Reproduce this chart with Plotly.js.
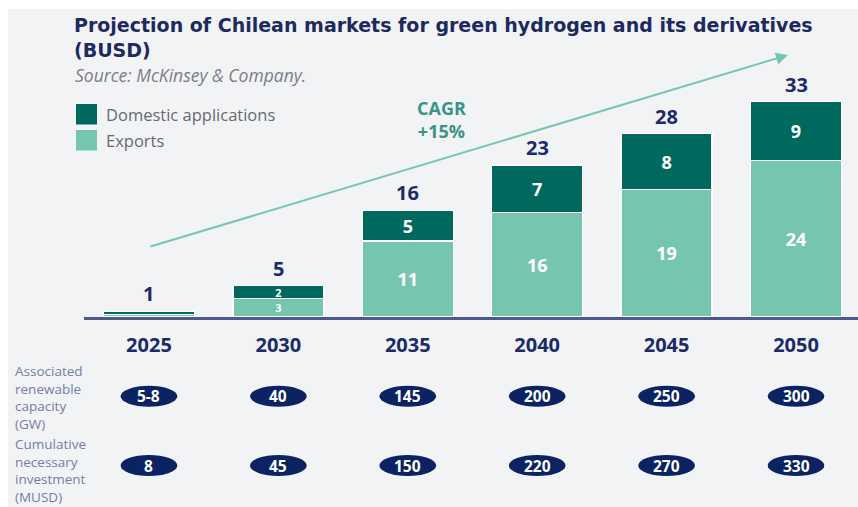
<!DOCTYPE html>
<html>
<head>
<meta charset="utf-8">
<script src="https://cdn.plot.ly/plotly-3.0.1.min.js"></script>
<style>
  html, body { margin:0; padding:0; background:#ffffff; width:858px; height:507px; overflow:hidden; }
  #bg { position:absolute; left:8px; top:9px; right:0; bottom:0; background:#f2f3f5; }
  #chart { position:absolute; left:0; top:0; width:858px; height:507px; }
</style>
</head>
<body>
<div id="bg"></div>
<div id="chart"></div>
<script>
// ---- data ----
const years = ['2025', '2030', '2035', '2040', '2045', '2050'];
const seriesNames = ['Domestic applications', 'Exports'];
const exportsVals = [0.35, 2.8, 11.6, 16, 19.5, 23.9];
const domesticVals = [0.5, 2.0, 4.7, 7.2, 8.5, 9.0];
const exportLabels = ['', '3', '11', '16', '19', '24'];
const domesticLabels = ['', '2', '5', '7', '8', '9'];
const totals = [1, 5, 16, 23, 28, 33];
const capacityGW = ['5-8', '40', '145', '200', '250', '300'];
const investmentMUSD = ['8', '45', '150', '220', '270', '330'];
const rowLabels = [
  'Associated<br>renewable<br>capacity<br>(GW)',
  'Cumulative<br>necessary<br>investment<br>(MUSD)'
];
const cagrText = 'CAGR<br>+15%';

// ---- style ----
const DARK = '#00695e';
const LIGHT = '#76c6af';
const NAVY = '#1b2b6a';
const OVAL = '#0b2363';

const W = 858, H = 507;
const M = {l: 84, r: 0, t: 60, b: 190};
const plotW = W - M.l - M.r, plotH = H - M.t - M.b;
const px2x = px => (px - M.l) / plotW;
const px2y = py => (H - M.b - py) / plotH;

// inside-label font size: small segments get a smaller font
const labelSize = vals => vals.map(v => (v < 4 ? 11 : 18));

const traces = [
  {
    type: 'bar', name: seriesNames[1], x: years, y: exportsVals,
    text: exportLabels, texttemplate: '%{text}', textposition: 'inside',
    insidetextanchor: 'middle', textangle: 0, constraintext: 'none',
    textfont: {family: 'Open Sans', size: labelSize(exportsVals), color: '#ffffff', weight: 700},
    marker: {color: LIGHT, line: {color: '#ffffff', width: 1.5}},
    hoverinfo: 'skip'
  },
  {
    type: 'bar', name: seriesNames[0], x: years, y: domesticVals,
    text: domesticLabels, texttemplate: '%{text}', textposition: 'inside',
    insidetextanchor: 'middle', textangle: 0, constraintext: 'none',
    textfont: {family: 'Open Sans', size: labelSize(domesticVals), color: '#ffffff', weight: 700},
    marker: {color: DARK, line: {color: '#ffffff', width: 1.5}},
    hoverinfo: 'skip'
  }
];

const annotations = [];
const shapes = [];

// totals above bars
years.forEach((yr, i) => {
  annotations.push({
    x: i, y: exportsVals[i] + domesticVals[i], xref: 'x', yref: 'y',
    text: String(totals[i]), showarrow: false, yanchor: 'bottom', yshift: 2,
    font: {family: 'Open Sans', size: 20, color: NAVY, weight: 700}
  });
});

// ovals rows
const rowsVals = [capacityGW, investmentMUSD];
const rowCenters = [396.3, 465.5];
const rowLabelCenter = [397, 470];
rowsVals.forEach((vals, r) => {
  const cy = rowCenters[r];
  years.forEach((yr, i) => {
    shapes.push({
      type: 'circle', xref: 'x', yref: 'paper',
      x0: i - 0.219, x1: i + 0.219,
      y0: px2y(cy + 10.5), y1: px2y(cy - 10.5),
      fillcolor: OVAL, line: {width: 0}, layer: 'below'
    });
    annotations.push({
      x: i, xref: 'x', y: px2y(cy), yref: 'paper', yanchor: 'middle',
      text: vals[i], showarrow: false,
      font: {family: 'Open Sans', size: 15.5, color: '#ffffff', weight: 700}
    });
  });
  annotations.push({
    x: px2x(13), xref: 'paper', xanchor: 'left', align: 'left',
    y: px2y(rowLabelCenter[r]), yref: 'paper', yanchor: 'middle',
    text: rowLabels[r], showarrow: false,
    font: {family: 'Open Sans', size: 13.5, color: '#7180a6'}
  });
});

// legend (custom, large squares)
const legendItems = [[seriesNames[0], DARK, 104], [seriesNames[1], LIGHT, 130]];
legendItems.forEach(([name, col, top]) => {
  shapes.push({
    type: 'rect', xref: 'paper', yref: 'paper',
    x0: px2x(76), x1: px2x(97), y0: px2y(top + 20.5), y1: px2y(top),
    fillcolor: col, line: {width: 0}
  });
  annotations.push({
    x: px2x(104), xref: 'paper', xanchor: 'left',
    y: px2y(top + 10), yref: 'paper', yanchor: 'middle',
    text: name, showarrow: false,
    font: {family: 'Open Sans', size: 16.5, color: '#666a70'}
  });
});

// source
annotations.push({
  x: px2x(73), xref: 'paper', xanchor: 'left',
  y: px2y(75), yref: 'paper', yanchor: 'middle',
  text: '<i>Source: McKinsey &amp; Company.</i>', showarrow: false,
  font: {family: 'Open Sans', size: 17.5, color: '#7a7d86'}
});

// CAGR text
annotations.push({
  x: px2x(441), xref: 'paper', y: px2y(120), yref: 'paper', yanchor: 'middle',
  text: cagrText, showarrow: false,
  font: {family: 'Open Sans', size: 18, color: '#3a9384', weight: 700}
});

// CAGR arrow
annotations.push({
  x: px2x(788), xref: 'paper', y: px2y(55), yref: 'paper',
  ax: 149 - 788, ay: 247 - 55, axref: 'pixel', ayref: 'pixel',
  text: '', showarrow: true, arrowhead: 2, arrowsize: 1.2, arrowwidth: 2,
  arrowcolor: LIGHT, standoff: 0, startstandoff: 0
});

const layout = {
  width: W, height: H,
  margin: M,
  paper_bgcolor: 'rgba(0,0,0,0)',
  plot_bgcolor: 'rgba(0,0,0,0)',
  barmode: 'stack',
  bargap: 0.297,
  showlegend: false,
  title: {
    text: 'Projection of Chilean markets for green hydrogen and its derivatives<br>(BUSD)',
    xref: 'container', x: 74 / W, xanchor: 'left',
    yref: 'container', y: 1 - 32 / H, yanchor: 'top',
    font: {family: 'DejaVu Sans', size: 19, color: '#1d2a5e', weight: 700}
  },
  xaxis: {
    type: 'category', range: [-0.502, 5.479],
    showline: true, linecolor: '#4b5a8a', linewidth: 2.5,
    ticks: '', showgrid: false, zeroline: false,
    ticklabelstandoff: 8,
    tickfont: {family: 'Open Sans', size: 20, color: NAVY, weight: 700},
    fixedrange: true
  },
  yaxis: {
    range: [0, plotH / 6.545],
    showgrid: false, zeroline: false, showticklabels: false, showline: false,
    ticks: '', fixedrange: true
  },
  annotations: annotations,
  shapes: shapes
};

Plotly.newPlot('chart', traces, layout, {displayModeBar: false, staticPlot: true});
</script>
</body>
</html>
